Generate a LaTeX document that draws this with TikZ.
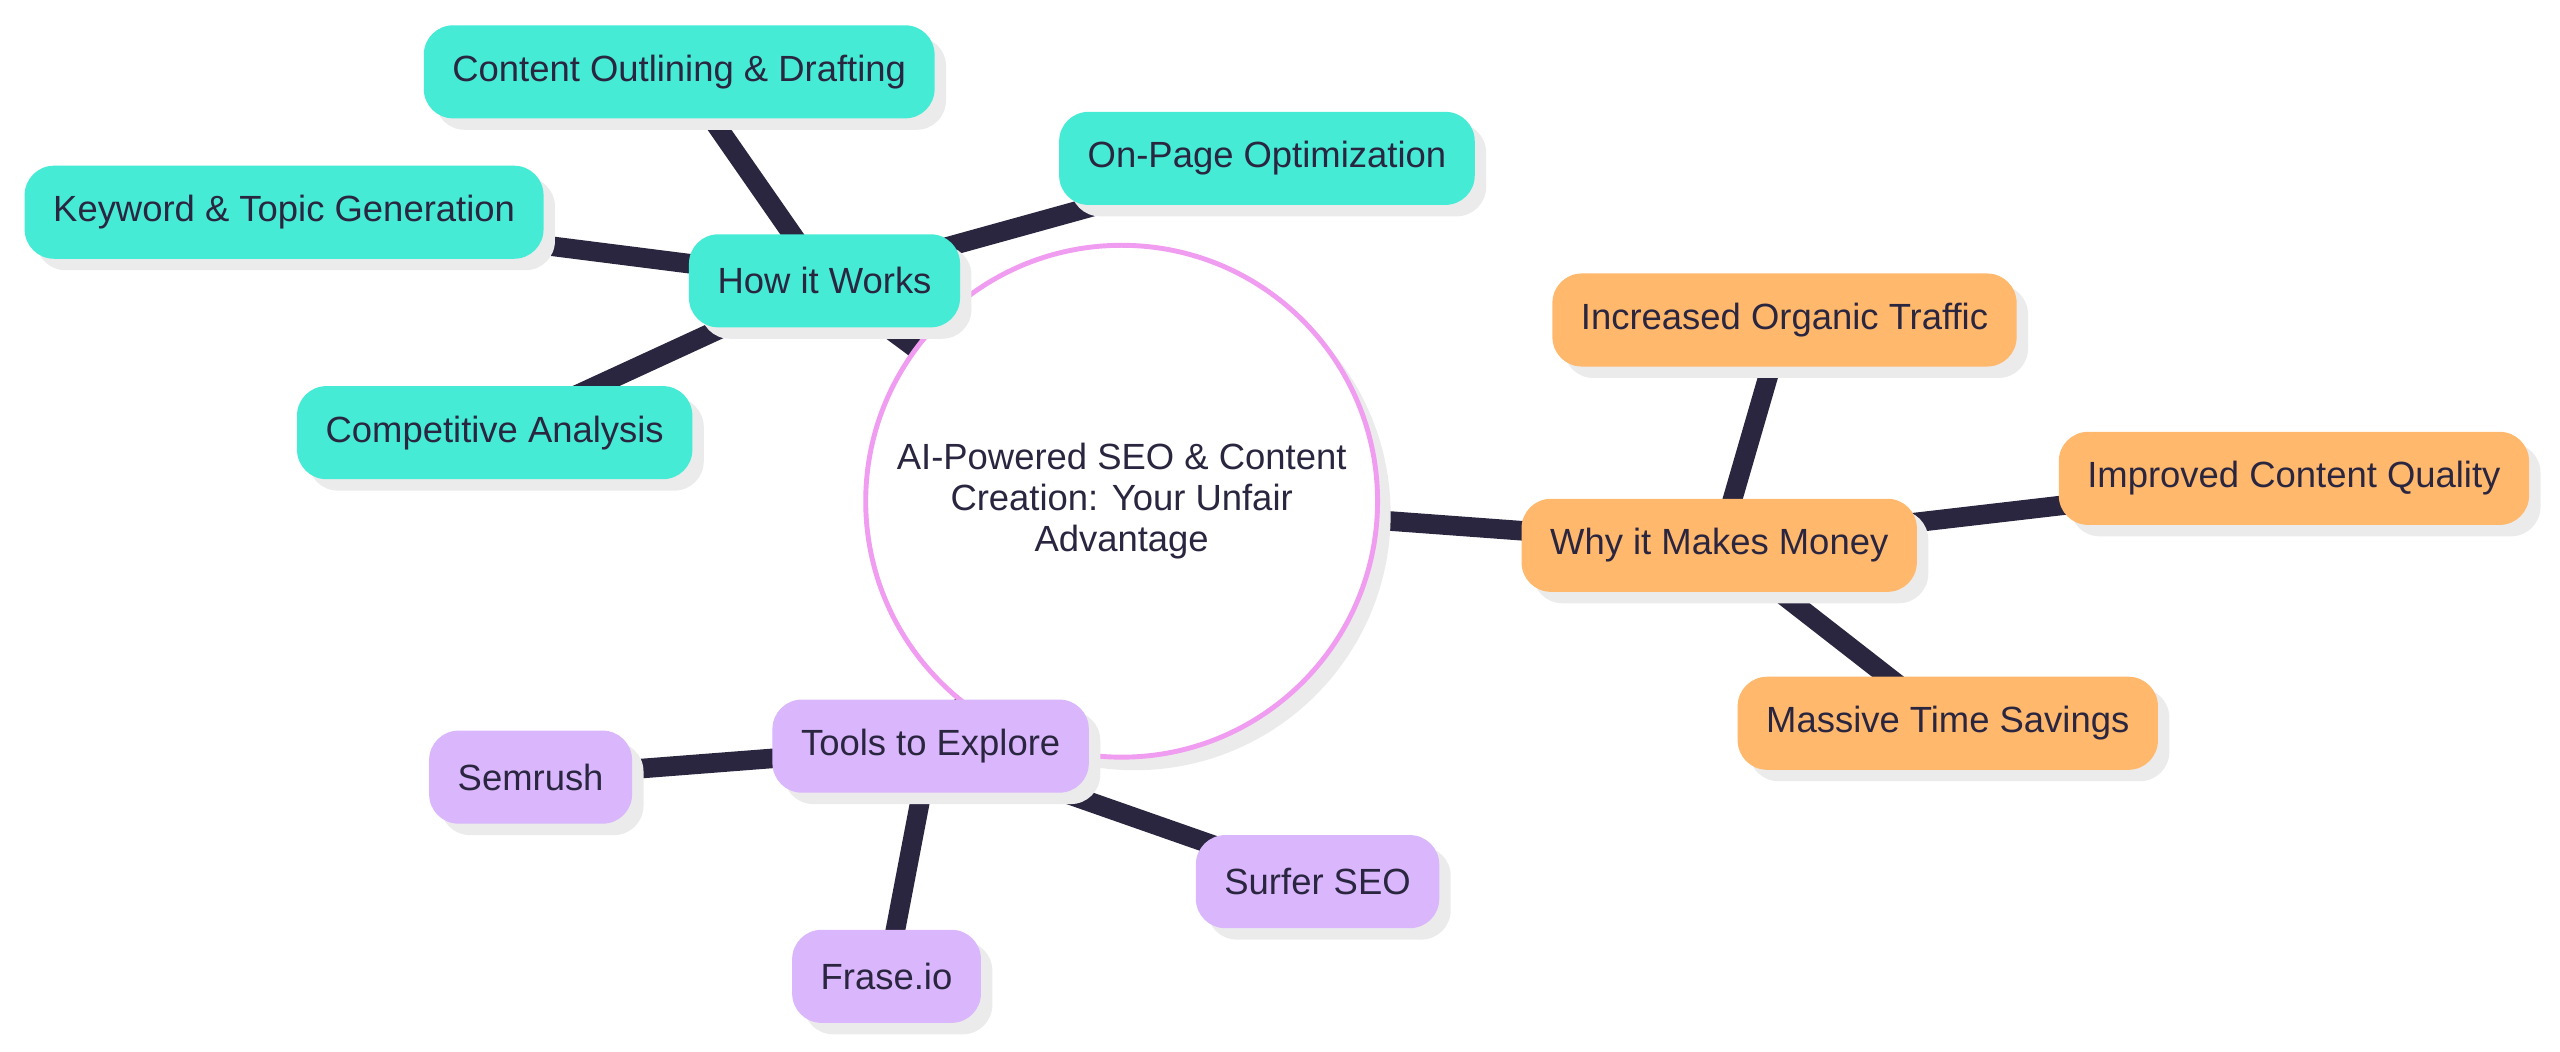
\documentclass[tikz,border=0pt]{standalone}
\usepackage{fontspec}
\setmainfont{Liberation Sans}
\usetikzlibrary{shadows,backgrounds}
\definecolor{linkc}{HTML}{2A2640}
\definecolor{howc}{HTML}{45EBD5}
\definecolor{whyc}{HTML}{FFB86C}
\definecolor{toolc}{HTML}{DAB6FC}
\definecolor{rootc}{HTML}{F09CF0}
\definecolor{textc}{HTML}{2A2640}

\begin{document}
\begin{tikzpicture}[
    leaf/.style={rectangle,rounded corners=0.18cm,minimum height=0.57cm,inner xsep=0.175cm,
      font=\fontsize{6.35pt}{7.5pt}\selectfont,text=textc,
      drop shadow={shadow xshift=0.07cm,shadow yshift=-0.07cm,fill=black!8,opacity=1}},
    link/.style={draw=linkc,line width=0.12cm}
]
    \useasboundingbox (0,0) rectangle (15.68,-6.44);
    % Root
    \node[circle,draw=rootc,line width=0.03cm,fill=white,minimum size=3.1cm,align=center,
      font=\fontsize{6.35pt}{7.2pt}\selectfont,text=textc,
      drop shadow={shadow xshift=0.08cm,shadow yshift=-0.08cm,fill=black!8,opacity=1}]
      (root) at (6.87,-3.07) {AI-Powered SEO \& Content\\Creation: Your Unfair\\Advantage};

    % How it works
    \node[leaf,fill=howc] (how) at (5.05,-1.72) {How it Works};
    \node[leaf,fill=howc] (outline) at (4.16,-0.44) {Content Outlining \& Drafting};
    \node[leaf,fill=howc] (onpage) at (7.76,-0.97) {On-Page Optimization};
    \node[leaf,fill=howc] (keyword) at (1.74,-1.30) {Keyword \& Topic Generation};
    \node[leaf,fill=howc] (compet) at (3.03,-2.65) {Competitive Analysis};

    % Why it makes money
    \node[leaf,fill=whyc] (why) at (10.53,-3.34) {Why it Makes Money};
    \node[leaf,fill=whyc] (traffic) at (10.93,-1.96) {Increased Organic Traffic};
    \node[leaf,fill=whyc] (quality) at (14.05,-2.93) {Improved Content Quality};
    \node[leaf,fill=whyc] (savings) at (11.93,-4.43) {Massive Time Savings};

    % Tools
    \node[leaf,fill=toolc] (tools) at (5.70,-4.57) {Tools to Explore};
    \node[leaf,fill=toolc] (semrush) at (3.25,-4.76) {Semrush};
    \node[leaf,fill=toolc] (frase) at (5.43,-5.98) {Frase.io};
    \node[leaf,fill=toolc] (surfer) at (8.07,-5.40) {Surfer SEO};

    % Links
    \begin{pgfonlayer}{background}
    \foreach \a/\b in {root/how,root/why,root/tools,how/outline,how/onpage,how/keyword,how/compet,
      why/traffic,why/quality,why/savings,tools/semrush,tools/frase,tools/surfer}
      \draw[link] (\a.center) -- (\b.center);
    \end{pgfonlayer}
\end{tikzpicture}
\end{document}
